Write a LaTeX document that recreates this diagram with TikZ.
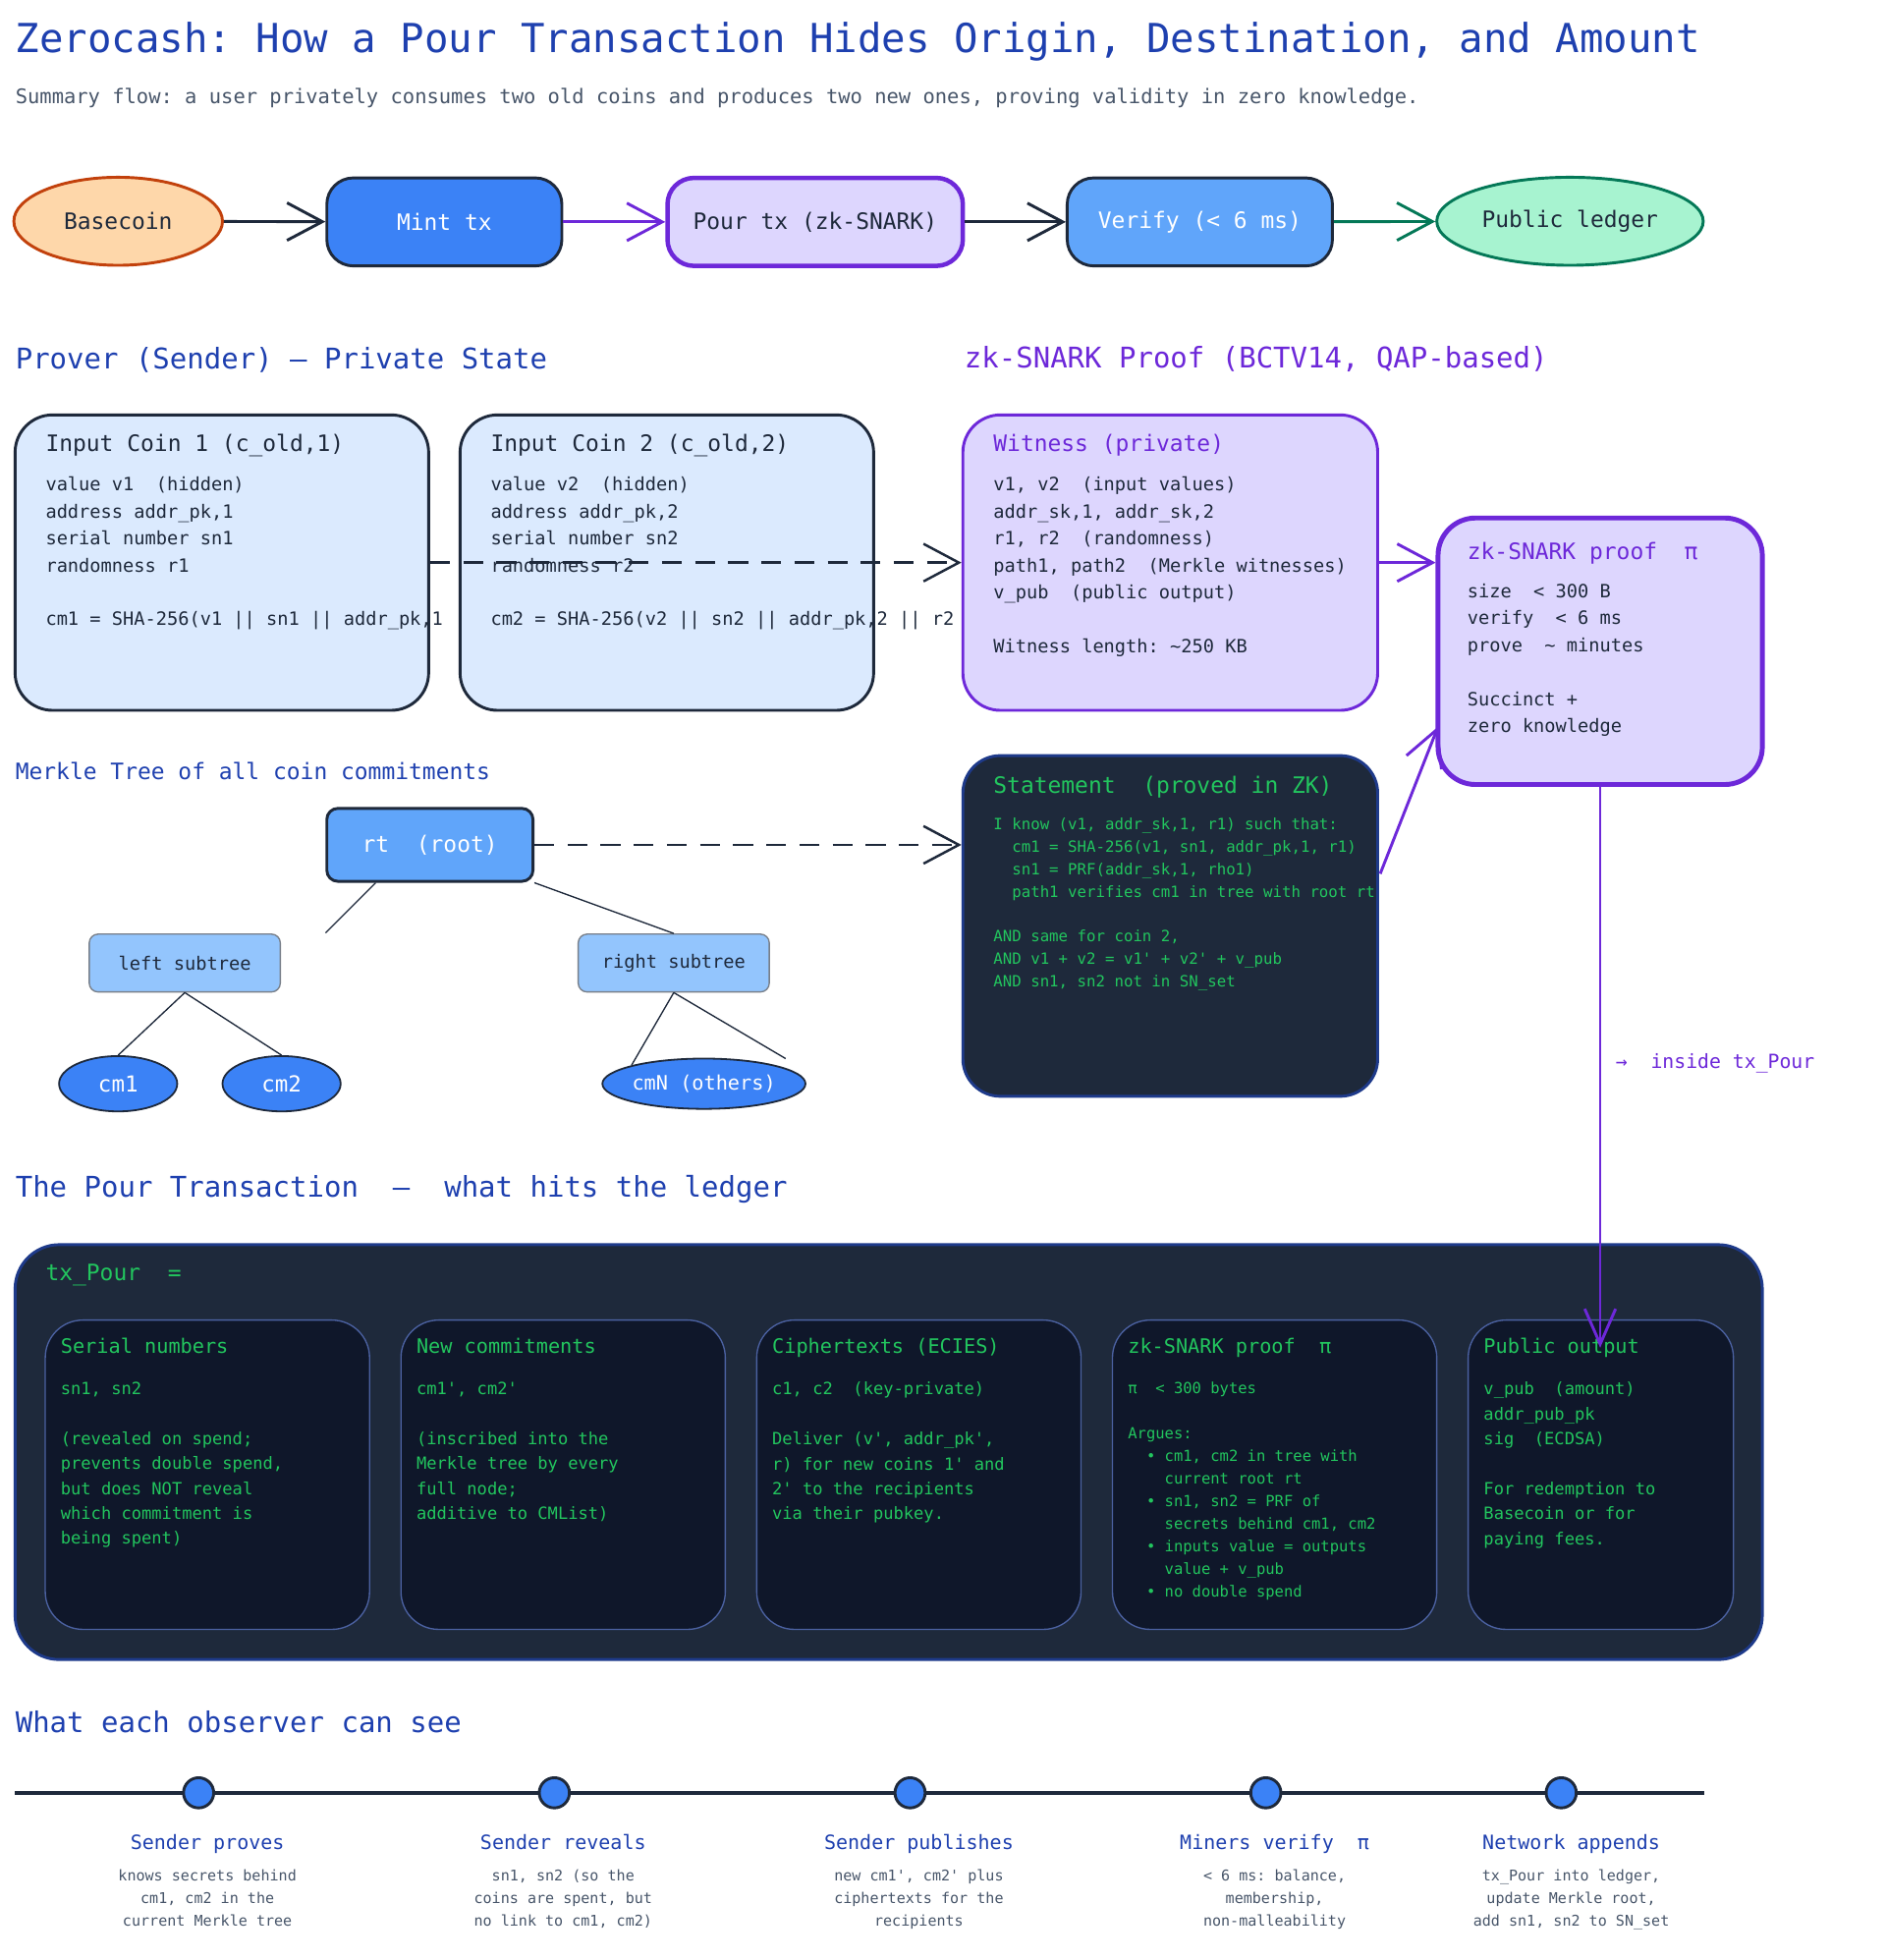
\documentclass[tikz,border=0pt]{standalone}
\usepackage{fontspec}
\setmonofont{DejaVu Sans Mono}
\usetikzlibrary{arrows.meta,shapes.geometric}
\definecolor{navy}{HTML}{1E293B}
\definecolor{ttl}{HTML}{1E40AF}
\definecolor{sub}{HTML}{475569}
\definecolor{purp}{HTML}{6D28D9}
\definecolor{lav}{HTML}{DDD6FE}
\definecolor{grn}{HTML}{22C55E}
\definecolor{dgrn}{HTML}{047857}
\definecolor{ink}{HTML}{0F172A}
\definecolor{edge}{HTML}{1E3A8A}
\definecolor{bblue}{HTML}{3B82F6}
\definecolor{mblue}{HTML}{60A5FA}
\definecolor{lblue}{HTML}{93C5FD}
\definecolor{pale}{HTML}{DBEAFE}
\definecolor{peach}{HTML}{FED7AA}
\definecolor{rust}{HTML}{C2410C}
\definecolor{mint}{HTML}{A7F3D0}
\newcommand\fs[2]{\fontsize{#1}{#2}\selectfont\ttfamily}
\tikzset{
  sz/.style 2 args={minimum width=#1*0.02cm, minimum height=#2*0.02cm, inner sep=0pt},
  barb/.style={-{Straight Barb[length=16pt,width=17pt]}, line width=1.3pt},
  txt/.style={anchor=north west, inner sep=0pt, align=left},
  head/.style={anchor=west, inner sep=0pt, text=ttl, font=\fs{12.9}{15}},
}
\begin{document}
\begin{tikzpicture}[x=0.02cm,y=-0.02cm]
    \useasboundingbox (0,0) rectangle (1500,1559);

    % title
    \node[anchor=west, inner sep=0pt, text=ttl, font=\fs{18.1}{22}] (title) at (12,33) {Zerocash: How a Pour Transaction Hides Origin, Destination, and Amount};
    \node[anchor=west, inner sep=0pt, text=sub, font=\fs{9.1}{12}] (subtitle) at (12,78) {Summary flow: a user privately consumes two old coins and produces two new ones, proving validity in zero knowledge.};

    % flow row
    \node[ellipse, sz={166}{70}, draw=rust, fill=peach, line width=1.3pt, text=navy, font=\fs{10.2}{12}] (base) at (94,176) {Basecoin};
    \node[rectangle, rounded corners=12pt, sz={187}{70}, draw=navy, fill=bblue, line width=1.3pt, text=white, font=\fs{10.2}{12}] (mint) at (353.5,176.5) {Mint tx};
    \node[rectangle, rounded corners=12pt, sz={235}{70}, draw=purp, fill=lav, line width=2pt, text=navy, font=\fs{10.2}{12}] (pour) at (648.5,176.5) {Pour tx (zk-SNARK)};
    \node[rectangle, rounded corners=12pt, sz={211}{70}, draw=navy, fill=mblue, line width=1.3pt, text=white, font=\fs{10.2}{12}] (verify) at (954.5,176.5) {Verify (< 6 ms)};
    \node[ellipse, sz={212}{70}, draw=dgrn, fill=mint, line width=1.3pt, text=navy, font=\fs{10.2}{12}] (ledger) at (1249,176) {Public ledger};
    \draw[barb, navy] (base) -- (mint);
    \draw[barb, purp] (mint) -- (pour);
    \draw[barb, navy] (pour) -- (verify);
    \draw[barb, dgrn] (verify) -- (ledger);

    % prover side
    \node[head] (hprov) at (12,286) {Prover (Sender) — Private State};
    \node[head, text=purp] (hzk) at (767,286) {zk-SNARK Proof (BCTV14, QAP-based)};

    \node[rectangle, rounded corners=17pt, sz={329}{235}, draw=navy, fill=pale, line width=1.3pt] (coin1) at (176.5,447.5) {};
    \node[rectangle, rounded corners=17pt, sz={329}{235}, draw=navy, fill=pale, line width=1.3pt] (coin2) at (530.5,447.5) {};
    \node[rectangle, rounded corners=17pt, sz={330}{235}, draw=purp, fill=lav, line width=1.3pt] (wit) at (931,447.5) {};
    \node[rectangle, rounded corners=17pt, sz={258}{212}, draw=purp, fill=lav, line width=2.2pt] (proof) at (1273,518) {};

    \node[txt, text=navy, font=\fs{10.2}{12}] (c1t) at (36,345) {Input Coin 1 (c\_old,1)};
    \node[txt, text=navy, font=\fs{8.3}{12.2}] (c1b) at (36,379) {value v1 ~(hidden)\\address addr\_pk,1\\serial number sn1\\randomness r1\\[12.2pt]cm1 = SHA-256(v1 || sn1 || addr\_pk,1};
    \node[txt, text=navy, font=\fs{10.2}{12}] (c2t) at (390,345) {Input Coin 2 (c\_old,2)};
    \node[txt, text=navy, font=\fs{8.3}{12.2}] (c2b) at (390,379) {value v2 ~(hidden)\\address addr\_pk,2\\serial number sn2\\randomness r2\\[12.2pt]cm2 = SHA-256(v2 || sn2 || addr\_pk,2 || r2};
    \node[txt, text=purp, font=\fs{10.2}{12}] (wt) at (790,345) {Witness (private)};
    \node[txt, text=navy, font=\fs{8.3}{12.2}] (wb) at (790,379) {v1, v2 ~(input values)\\addr\_sk,1, addr\_sk,2\\r1, r2 ~(randomness)\\path1, path2 ~(Merkle witnesses)\\v\_pub ~(public output)\\[12.2pt]Witness length: \textasciitilde250 KB};
    \node[txt, text=purp, font=\fs{10.2}{12}] (pt) at (1167,431) {zk-SNARK proof ~π};
    \node[txt, text=navy, font=\fs{8.3}{12.2}] (pb) at (1167,464) {size ~< 300 B\\verify ~< 6 ms\\prove ~\textasciitilde\ minutes\\[12.2pt]Succinct +\\zero knowledge};

    \draw[barb, navy, dashed, dash pattern=on 9pt off 6pt, line width=1.1pt] (coin1.east) -- (wit.west);
    \draw[barb, purp] (wit.east) -- (proof.west |- wit.east);

    % merkle tree
    \node[anchor=west, inner sep=0pt, text=ttl, font=\fs{10.2}{12}] (hmerk) at (12,613) {Merkle Tree of all coin commitments};
    \node[rectangle, rounded corners=5pt, sz={164}{58}, draw=navy, fill=mblue, line width=1.3pt, text=white, font=\fs{10.2}{12}] (rt) at (342,672) {rt ~(root)};
    \node[rectangle, rounded corners=4pt, sz={152}{46}, draw=navy!60, fill=lblue, line width=0.6pt, text=navy, font=\fs{8.3}{10}] (lsub) at (147,766) {left subtree};
    \node[rectangle, rounded corners=4pt, sz={152}{46}, draw=navy!60, fill=lblue, line width=0.6pt, text=navy, font=\fs{8.3}{10}] (rsub) at (536,766) {right subtree};
    \node[ellipse, sz={94}{44}, draw=navy, fill=bblue, line width=0.8pt, text=white, font=\fs{10}{12}] (cm1) at (94,862) {cm1};
    \node[ellipse, sz={94}{44}, draw=navy, fill=bblue, line width=0.8pt, text=white, font=\fs{10}{12}] (cm2) at (224,862) {cm2};
    \node[ellipse, sz={130}{40}, draw=navy, fill=bblue, line width=0.8pt, text=white, font=\fs{9}{12}] (cmN) at (560,862) {cmN (others)};
    \coordinate (lt) at (259,742);
    \coordinate (rtr) at (625,842);
    \draw[navy, line width=0.6pt] (rt.south west) ++(40,0) -- (lt);
    \draw[navy, line width=0.6pt] (rt.south east) -- (rsub.north);
    \draw[navy, line width=0.6pt] (lsub.south) -- (cm1.north);
    \draw[navy, line width=0.6pt] (lsub.south) -- (cm2.north);
    \draw[navy, line width=0.6pt] (rsub.south) -- (cmN.north west);
    \draw[navy, line width=0.6pt] (rsub.south) -- (rtr);

    % statement
    \node[rectangle, rounded corners=17pt, sz={330}{271}, draw=edge, fill=navy, line width=1.3pt] (stmt) at (931,736.5) {};
    \node[txt, text=grn, font=\fs{10.2}{12}] (st) at (790,617) {Statement ~(proved in ZK)};
    \node[txt, text=grn, font=\fs{7}{10.2}] (sb) at (790,650) {I know (v1, addr\_sk,1, r1) such that:\\~~cm1 = SHA-256(v1, sn1, addr\_pk,1, r1)\\~~sn1 = PRF(addr\_sk,1, rho1)\\~~path1 verifies cm1 in tree with root rt\\[10.2pt]AND same for coin 2,\\AND v1 + v2 = v1' + v2' + v\_pub\\AND sn1, sn2 not in SN\_set};
    \draw[barb, navy, dashed, dash pattern=on 9pt off 6pt, line width=1.1pt] (rt.east) -- (stmt.west |- rt.east);
    \coordinate (sout) at (1098,695);
    \draw[barb, purp] (sout) -- (1144,578);

    % pour tx
    \node[head] (hpour) at (12,946) {The Pour Transaction ~— ~what hits the ledger};
    \node[rectangle, rounded corners=20pt, sz={1390}{330}, draw=edge, fill=navy, line width=1.3pt] (tx) at (707,1155) {};
    \node[anchor=west, inner sep=0pt, text=grn, font=\fs{10.2}{12}] (txl) at (36,1014) {tx\_Pour ~=};
    \foreach \n/\cx/\w in {a/165/258, b/448/258, c/731/258, d/1014/258, e/1273.5/211}
      \node[rectangle, rounded corners=17pt, sz={\w}{246}, draw=edge!80, fill=ink, line width=0.6pt] (card\n) at (\cx,1173) {};
    \node[txt, text=grn, font=\fs{9}{11}] at (48,1064) {Serial numbers};
    \node[txt, text=grn, font=\fs{7.6}{11.3}] at (48,1099) {sn1, sn2\\[11.3pt](revealed on spend;\\prevents double spend,\\but does NOT reveal\\which commitment is\\being spent)};
    \node[txt, text=grn, font=\fs{9}{11}] at (331,1064) {New commitments};
    \node[txt, text=grn, font=\fs{7.6}{11.3}] at (331,1099) {cm1', cm2'\\[11.3pt](inscribed into the\\Merkle tree by every\\full node;\\additive to CMList)};
    \node[txt, text=grn, font=\fs{9}{11}] at (614,1064) {Ciphertexts (ECIES)};
    \node[txt, text=grn, font=\fs{7.6}{11.3}] at (614,1099) {c1, c2 ~(key-private)\\[11.3pt]Deliver (v', addr\_pk',\\r) for new coins 1' and\\2' to the recipients\\via their pubkey.};
    \node[txt, text=grn, font=\fs{9}{11}] at (897,1064) {zk-SNARK proof ~π};
    \node[txt, text=grn, font=\fs{6.9}{10.2}] at (897,1099) {π ~< 300 bytes\\[10.2pt]Argues:\\~~• cm1, cm2 in tree with\\~~~~current root rt\\~~• sn1, sn2 = PRF of\\~~~~secrets behind cm1, cm2\\~~• inputs value = outputs\\~~~~value + v\_pub\\~~• no double spend};
    \node[txt, text=grn, font=\fs{9}{11}] at (1180,1064) {Public output};
    \node[txt, text=grn, font=\fs{7.6}{11.3}] at (1180,1099) {v\_pub ~(amount)\\addr\_pub\_pk\\sig ~(ECDSA)\\[11.3pt]For redemption to\\Basecoin or for\\paying fees.};
    \coordinate (pin) at (1273,1072);
    \draw[barb, purp, -{Straight Barb[length=16pt,width=14pt]}] (proof.south) -- (pin);
    \node[anchor=west, inner sep=0pt, text=purp, font=\fs{8.8}{11}] (inside) at (1285,846) {→ ~inside tx\_Pour};

    % observers
    \node[head] (hobs) at (12,1370) {What each observer can see};
    \coordinate (tl0) at (12,1426);
    \coordinate (tl1) at (1356,1426);
    \draw[navy, line width=2pt] (tl0) -- (tl1);
    \foreach \n/\x/\cx/\t/\b in {
        p/158/165/{Sender proves}/{knows secrets behind\\cm1, cm2 in the\\current Merkle tree},
        r/441/448/{Sender reveals}/{sn1, sn2 (so the\\coins are spent, but\\no link to cm1, cm2)},
        u/724/731/{Sender publishes}/{new cm1', cm2' plus\\ciphertexts for the\\recipients},
        m/1007/1014/{Miners verify ~π}/{< 6 ms: balance,\\membership,\\non-malleability},
        n/1242/1250/{Network appends}/{tx\_Pour into ledger,\\update Merkle root,\\add sn1, sn2 to SN\_set}} {
      \node[circle, minimum size=24*0.02cm, inner sep=0pt, draw=navy, fill=bblue, line width=1.3pt] (dot\n) at (\x,1426) {};
      \node[anchor=base, inner sep=0pt, text=ttl, font=\fs{8.9}{11}] (obs\n) at (\cx,1471) {\t};
      \node[anchor=north, inner sep=0pt, align=center, text=sub, font=\fs{6.7}{10.2}] (obsb\n) at (\cx,1487) {\b};
    }
\end{tikzpicture}
\end{document}
